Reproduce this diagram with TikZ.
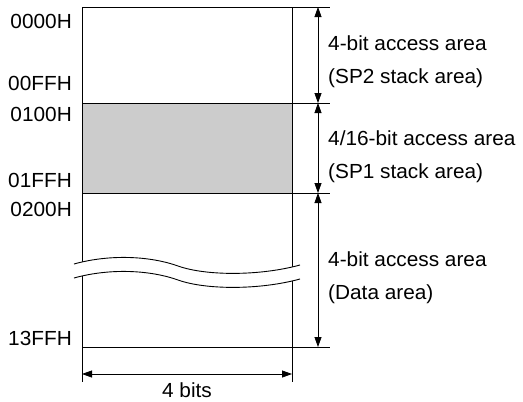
\documentclass[tikz,border=0pt]{standalone}
\usepackage{fontspec}
\setmainfont{Liberation Sans}[FakeStretch=1.02]
\usetikzlibrary{arrows.meta}
\begin{document}
\begin{tikzpicture}[x=1pt,y=-1pt,
  frame/.style={line width=1pt,black},
  dim/.style={line width=0.8pt,black,{Triangle[length=10pt,width=7pt]}-{Triangle[length=10pt,width=7pt]}},
  addr/.style={anchor=base east,inner sep=0pt,font=\fontsize{20.4}{24}\selectfont},
  desc/.style={anchor=base west,inner sep=0pt,font=\fontsize{20.4}{24}\selectfont}]
\useasboundingbox (0,0) rectangle (523,402);
% shaded area
\fill[fill={rgb,255:red,204;green,204;blue,204}] (82,103) rectangle (292,193);
% coordinates
\coordinate (tl) at (82,7);
\coordinate (tr) at (292,7);
\coordinate (bl) at (82,347);
\coordinate (br) at (292,347);
\coordinate (ml) at (82,103);
\coordinate (mr) at (292,103);
\coordinate (nl) at (82,193);
\coordinate (nr) at (292,193);
\coordinate (te) at (330,7);
\coordinate (me) at (330,103);
\coordinate (ne) at (330,193);
\coordinate (be) at (330,347);
\coordinate (lext) at (82,382);
\coordinate (rext) at (292,382);
% frame
\draw[frame] (tl) -- (te);
\draw[frame] (ml) -- (me);
\draw[frame] (nl) -- (ne);
\draw[frame] (bl) -- (be);
\draw[frame] (tl) -- (lext);
\draw[frame] (tr) -- (rext);
% break
\fill[white] (74,264) .. controls (110,254) and (150,256) .. (178,266) .. controls (206,276) and (260,276) .. (300,265)
  -- (300,279) .. controls (260,290) and (206,290) .. (178,280) .. controls (150,270) and (110,268) .. (74,278) -- cycle;
\draw[line width=0.9pt] (74,264) .. controls (110,254) and (150,256) .. (178,266) .. controls (206,276) and (260,276) .. (300,265);
\draw[line width=0.9pt] (74,278) .. controls (110,268) and (150,270) .. (178,280) .. controls (206,290) and (260,290) .. (300,279);
% dimension arrows
\coordinate (a0) at (318,7);
\coordinate (a1) at (318,103);
\coordinate (a2) at (318,193);
\coordinate (a3) at (318,347);
\draw[dim] (a0) -- (a1);
\draw[dim] (a1) -- (a2);
\draw[dim] (a2) -- (a3);
\coordinate (w0) at (82,374);
\coordinate (w1) at (292,374);
\draw[dim] (w0) -- (w1);
% labels
\node[addr] (l0) at (72,28) {0000H};
\node[addr] (l1) at (72,90.5) {00FFH};
\node[addr] (l2) at (72,121) {0100H};
\node[addr] (l3) at (72,187) {01FFH};
\node[addr] (l4) at (72,216) {0200H};
\node[addr] (l5) at (72,345) {13FFH};
\node[desc] (d1) at (328,50) {4-bit access area};
\node[desc] (d2) at (328,83) {(SP2 stack area)};
\node[desc] (d3) at (328,145.5) {4/16-bit access area};
\node[desc] (d4) at (328,178) {(SP1 stack area)};
\node[desc] (d5) at (328,266) {4-bit access area};
\node[desc] (d6) at (328,299) {(Data area)};
\node[anchor=base,inner sep=0pt,font=\fontsize{20.4}{24}\selectfont] (bits) at (187,397) {4 bits};
\end{tikzpicture}
\end{document}
